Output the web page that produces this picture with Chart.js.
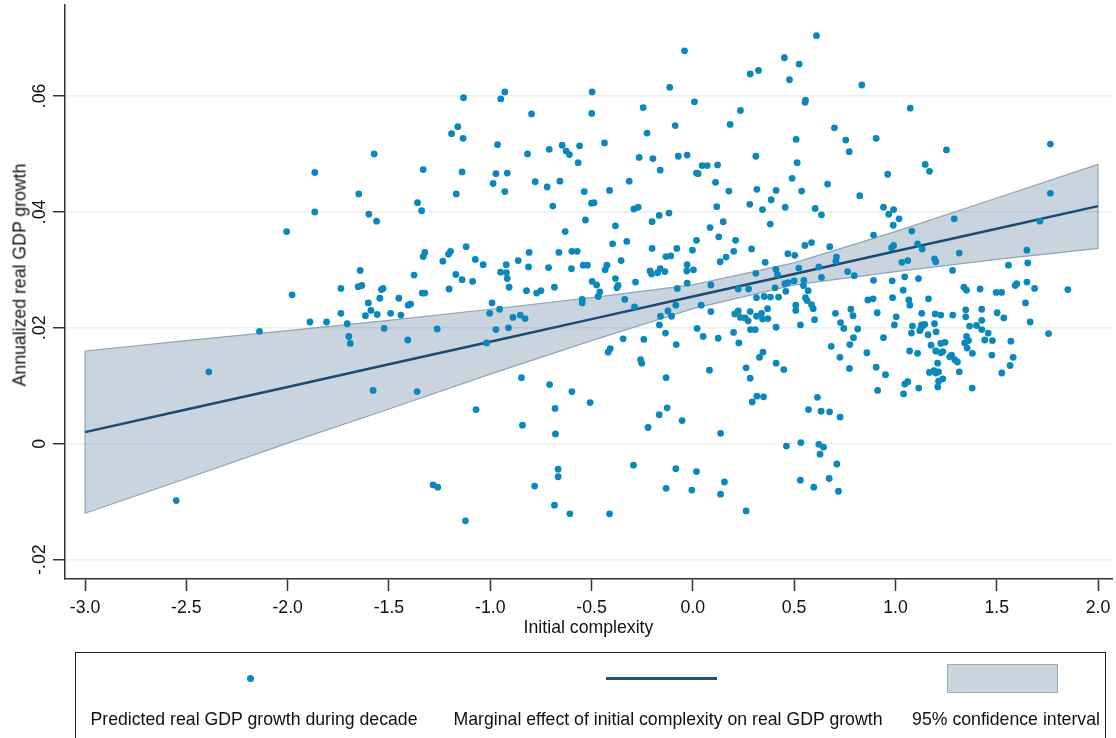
<!DOCTYPE html>
<html>
<head>
<meta charset="utf-8">
<script src="https://cdn.jsdelivr.net/npm/chart.js@4.4.1/dist/chart.umd.min.js"></script>
<style>
  html, body { margin: 0; padding: 0; background: #fff; }
  #wrap { position: relative; width: 1116px; height: 738px; overflow: hidden; font-family: 'Liberation Sans', Arial, sans-serif; }
  #ytitle { position: absolute; left: 20px; top: 275px; font-size: 17.7px; color: #111; white-space: nowrap; transform: translate(-50%, -50%) rotate(-90deg); }
  #legend { position: absolute; left: 75px; top: 652px; width: 1031px; height: 100px; border: 1.5px solid #222; box-sizing: border-box; }
  .lab { position: absolute; top: 56px; font-size: 17.7px; color: #111; white-space: nowrap; transform: translateX(-50%); }
  .dot { position: absolute; width: 7px; height: 7px; border-radius: 50%; background: #0a88bd; }
  .ln { position: absolute; height: 3px; background: #234f79; }
  .box { position: absolute; background: #c9d4de; border: 1.5px solid #9aadbf; box-sizing: border-box; }
</style>
</head>
<body>
<div id="wrap">
  <canvas id="chart" width="1116" height="738"></canvas>
  <div id="ytitle">Annualized real GDP growth</div>
  <div id="legend">
    <div class="dot" style="left:171px; top:22px;"></div>
    <div class="ln" style="left:530px; width:111px; top:24px;"></div>
    <div class="box" style="left:871px; width:111px; top:11px; height:29px;"></div>
    <div class="lab" style="left:178px;">Predicted real GDP growth during decade</div>
    <div class="lab" style="left:592px;">Marginal effect of initial complexity on real GDP growth</div>
    <div class="lab" style="left:930px;">95% confidence interval</div>
  </div>
</div>
<script>
// predicted real GDP growth vs initial complexity
const predicted = [
  [-1.866,.0468],[-1.866,.0400],[-2.005,.0366],[-1.978,.0257],
  [-1.890,.0210],[-1.808,.0210],[-2.139,.0194],[-2.389,.0124],[-2.550,-.0098],
  [-1.132,.0597],[-0.948,.0595],[-0.928,.0607],[-0.497,.0607],[-0.499,.0570],[-0.796,.0569],
  [-1.160,.0547],[-1.191,.0535],[-1.134,.0527],[-0.964,.0516],[-1.573,.0500],[-0.816,.0500],
  [-0.709,.0508],[-0.645,.0515],[-0.625,.0505],[-0.609,.0499],[-0.559,.0514],[-0.566,.0485],
  [-1.331,.0473],[-1.139,.0469],[-0.972,.0466],[-0.916,.0467],[-0.986,.0449],[-0.778,.0452],
  [-0.719,.0443],[-0.656,.0453],[-0.928,.0435],[-0.536,.0435],[-1.649,.0431],[-1.168,.0431],
  [-1.359,.0416],[-1.339,.0402],[-0.691,.0410],[-0.500,.0415],[-0.488,.0416],[-1.599,.0396],
  [-1.561,.0384],[-0.530,.0386],[-0.630,.0366],[-1.119,.0340],[-1.323,.0330],[-1.331,.0323],
  [-1.196,.0332],[-1.206,.0327],[-1.234,.0315],[-1.074,.0318],[-1.035,.0309],[-0.862,.0316],
  [-0.808,.0330],[-0.661,.0330],[-0.597,.0332],[-0.571,.0332],[-1.642,.0299],[-1.376,.0291],
  [-1.170,.0292],[-1.139,.0283],[-1.087,.0280],[-0.949,.0296],[-0.921,.0309],[-0.920,.0295],
  [-0.916,.0285],[-0.907,.0270],[-0.811,.0305],[-0.712,.0304],[-0.599,.0302],[-0.541,.0308],
  [-0.520,.0308],[-0.497,.0280],[-0.475,.0274],[-1.737,.0268],[-1.652,.0271],[-1.634,.0273],
  [-1.537,.0266],[-1.529,.0268],[-1.203,.0267],[-0.821,.0264],[-0.771,.0260],[-0.750,.0264],
  [-0.683,.0270],[-1.336,.0260],[-1.323,.0260],
  [-1.737,.0225],[-1.706,.0207],[-1.698,.0185],[-1.691,.0173],[-1.616,.0221],[-1.602,.0243],
  [-1.589,.0230],[-1.558,.0223],[-1.545,.0251],[-1.524,.0199],[-1.492,.0225],[-1.451,.0251],
  [-1.441,.0222],[-1.407,.0179],[-1.405,.0239],[-1.393,.0241],[-1.262,.0198],[-0.991,.0243],
  [-1.003,.0225],[-0.954,.0232],[-0.972,.0197],[-0.910,.0200],[-0.888,.0218],[-0.852,.0222],
  [-0.828,.0216],[-1.018,.0174],[-0.546,.0249],[-0.546,.0243],[-0.467,.0254],[-1.578,.0092],
  [-1.361,.0090],[-0.846,.0114],[-0.707,.0102],[-0.597,.0090],[-0.680,.0061],[-0.507,.0071],
  [-1.070,.0059],[-0.841,.0032],[-0.678,.0017],[-0.665,-.0044],[-0.665,-.0057],[-1.282,-.0071],
  [-1.259,-.0075],[-0.781,-.0073],[-0.683,-.0106],[-0.607,-.0121],[-1.122,-.0133],
  [0.610,.0704],[-0.041,.0678],[0.452,.0666],[0.525,.0655],[0.283,.0638],[0.324,.0644],
  [0.477,.0628],[-0.114,.0615],[0.834,.0619],[0.008,.0590],[0.556,.0593],[0.554,.0589],
  [-0.245,.0580],[0.235,.0575],[0.184,.0551],[-0.087,.0549],[0.699,.0545],[-0.226,.0536],
  [0.510,.0525],[0.755,.0524],[0.772,.0504],[-0.436,.0519],[-0.265,.0494],[-0.197,.0492],
  [-0.072,.0496],[-0.028,.0498],[0.311,.0496],[-0.161,.0472],[0.046,.0480],[0.071,.0480],
  [0.122,.0481],[0.018,.0467],[0.026,.0466],[0.515,.0485],[0.490,.0458],[0.112,.0451],
  [-0.314,.0453],[0.665,.0448],[-0.411,.0437],[0.178,.0436],[0.316,.0439],[0.411,.0437],
  [0.387,.0421],[0.537,.0436],[0.281,.0413],[0.456,.0408],[0.344,.0404],[0.118,.0409],
  [0.824,.0428],[0.604,.0406],[0.635,.0395],[-0.291,.0405],[-0.270,.0408],[-0.166,.0394],
  [-0.118,.0398],[-0.201,.0383],[-0.382,.0376],[0.382,.0379],[0.085,.0373],[0.150,.0383],
  [0.128,.0357],[0.018,.0351],[0.211,.0351],[-0.326,.0349],[-0.396,.0345],[-0.002,.0334],
  [-0.201,.0337],[-0.079,.0337],[0.290,.0336],[0.202,.0332],[0.553,.0342],[0.586,.0347],
  [0.676,.0340],[0.469,.0328],[0.503,.0325],[-0.133,.0323],[-0.109,.0324],[-0.354,.0316],
  [0.164,.0322],[0.135,.0314],[0.357,.0313],[0.709,.0322],[0.706,.0315],[-0.424,.0308],
  [-0.433,.0300],[-0.211,.0298],[-0.204,.0293],[-0.174,.0295],[-0.161,.0302],[-0.138,.0297],
  [-0.028,.0309],[-0.030,.0298],[0.003,.0300],[0.410,.0301],[0.418,.0292],[0.523,.0303],
  [0.622,.0305],[0.764,.0297],[0.797,.0290],[0.311,.0294],[-0.382,.0285],[-0.283,.0279],
  [0.635,.0287],[-0.459,.0262],[-0.369,.0273],[-0.375,.0269],[-0.077,.0268],[-0.028,.0277],
  [0.089,.0274],[0.224,.0267],[0.275,.0267],[0.406,.0269],[0.454,.0276],[0.470,.0278],
  [0.500,.0281],[0.548,.0282],[0.546,.0273],[0.569,.0264],[0.459,.0263],
  [1.073,.0579],[0.905,.0527],[1.252,.0507],[1.765,.0517],[1.147,.0482],[1.168,.0470],
  [0.962,.0465],[1.765,.0432],[0.941,.0408],[0.967,.0396],[0.991,.0404],[1.018,.0388],
  [0.989,.0377],[1.290,.0388],[1.713,.0384],[1.081,.0367],[0.892,.0360],[1.109,.0345],
  [1.132,.0336],[0.981,.0338],[0.991,.0342],[1.315,.0329],[1.649,.0334],[1.193,.0319],
  [1.199,.0314],[1.032,.0313],[1.061,.0316],[1.282,.0299],[1.558,.0308],[1.653,.0312],
  [1.046,.0288],[1.114,.0285],[0.892,.0282],[0.984,.0281],[1.649,.0279],[1.038,.0265],
  [1.338,.0270],[1.351,.0265],[1.418,.0267],[1.497,.0261],[1.524,.0261],[1.591,.0273],
  [1.599,.0276],[1.687,.0268],[1.851,.0266],
  [-0.336,.0249],[-0.288,.0236],[-0.084,.0239],[0.041,.0239],[0.089,.0228],[-0.160,.0220],
  [-0.123,.0229],[-0.105,.0220],[-0.165,.0205],[-0.135,.0191],[-0.344,.0181],[-0.242,.0180],
  [-0.082,.0171],[0.021,.0199],[0.051,.0185],[0.125,.0182],[0.201,.0192],[0.227,.0174],
  [0.207,.0224],[0.224,.0229],[0.235,.0218],[0.258,.0217],[0.273,.0212],[0.283,.0228],
  [0.314,.0252],[0.314,.0220],[0.339,.0225],[0.344,.0215],[0.369,.0233],[0.370,.0216],
  [0.352,.0254],[0.383,.0253],[0.423,.0253],[0.411,.0201],[0.285,.0197],[0.308,.0197],
  [0.508,.0239],[0.508,.0230],[0.531,.0205],[0.556,.0252],[0.564,.0247],[0.586,.0240],
  [0.594,.0233],[0.601,.0214],[0.704,.0225],[0.729,.0209],[0.745,.0199],[0.791,.0221],
  [0.780,.0232],[0.814,.0198],[0.793,.0183],[0.775,.0171],[0.683,.0168],[0.726,.0149],
  [0.773,.0130],[-0.418,.0158],[-0.408,.0164],[-0.258,.0145],[-0.252,.0139],[0.082,.0127],
  [0.263,.0131],[0.283,.0113],[0.329,.0149],[0.346,.0158],[0.411,.0139],[0.449,.0128],
  [-0.132,.0114],[0.316,.0082],[0.349,.0081],[0.293,.0072],[0.615,.0080],[0.571,.0059],
  [0.633,.0056],[0.675,.0055],[0.727,.0046],[-0.127,.0062],[-0.166,.0050],[-0.053,.0040],
  [-0.221,.0028],[0.137,.0018],[0.462,-.0004],[0.533,.0002],[0.622,-.0001],[0.645,-.0006],
  [0.628,-.0018],[0.711,-.0035],[-0.293,-.0037],[-0.084,-.0043],[0.018,-.0048],[0.156,-.0066],
  [-0.132,-.0077],[-0.005,-.0080],[0.137,-.0087],[0.531,-.0063],[0.597,-.0075],[0.673,-.0060],
  [0.719,-.0082],[-0.411,-.0121],[0.263,-.0116],
  [0.864,.0248],[0.890,.0250],[0.986,.0252],[1.066,.0248],[1.071,.0239],[1.163,.0250],
  [0.910,.0226],[1.004,.0219],[0.995,.0205],[1.130,.0225],[1.196,.0224],[1.224,.0222],
  [1.283,.0222],[1.347,.0231],[1.347,.0219],[1.426,.0232],[1.502,.0226],[1.535,.0217],
  [1.642,.0243],[1.665,.0210],[1.756,.0190],[1.084,.0203],[1.129,.0205],[1.137,.0204],
  [1.145,.0206],[1.125,.0199],[1.120,.0195],[1.193,.0207],[1.201,.0193],[1.079,.0191],
  [1.161,.0188],[0.941,.0183],[1.366,.0203],[1.400,.0204],[1.426,.0213],[1.426,.0197],
  [1.458,.0191],[1.441,.0179],[1.479,.0178],[1.570,.0177],[1.351,.0185],[1.361,.0178],
  [1.342,.0174],[1.354,.0165],[1.176,.0170],[1.224,.0173],[1.245,.0175],[1.199,.0160],
  [1.224,.0157],[1.234,.0159],[1.277,.0153],[1.268,.0150],[1.293,.0145],[1.306,.0141],
  [1.380,.0156],[1.476,.0153],[1.581,.0149],[1.566,.0135],[1.525,.0122],[1.070,.0160],
  [1.109,.0156],[0.859,.0157],[0.905,.0132],[0.951,.0119],[1.208,.0139],[1.168,.0123],
  [1.190,.0126],[1.213,.0124],[1.199,.0122],[1.315,.0124],[1.234,.0112],[1.213,.0108],
  [1.209,.0098],[1.061,.0107],[1.046,.0103],[1.115,.0096],[1.040,.0086],[0.912,.0092],
  [1.379,.0096]
];

// fitted line and 95% band
const ciX   = [-3.0, -2.5, -2.0, -1.5, -1.0, -0.5, 0.0, 0.5, 1.0, 1.5, 2.0];
const fitY  = [.0020, .0059, .0098, .0137, .0176, .0215, .0254, .0293, .0332, .0371, .0410];
const ciLow = [-.0120, -.0060, .0001, .0060, .0120, .0178, .0233, .0274, .0297, .0318, .0337];
const ciHigh= [.0160, .0178, .0195, .0213, .0232, .0252, .0274, .0312, .0366, .0424, .0482];

const xTicks = [-3.0, -2.5, -2.0, -1.5, -1.0, -0.5, 0.0, 0.5, 1.0, 1.5, 2.0];
const yTicks = [-0.02, 0, 0.02, 0.04, 0.06];
const yTickLabels = ['-.02', '0', '.02', '.04', '.06'];

const FONT = "'Liberation Sans', Arial, sans-serif";
Chart.defaults.font.family = FONT;
Chart.defaults.color = '#111';

// band as one closed outline: upper edge left to right, lower edge back
const bandPts = ciX.map((x, i) => ({ x: x, y: ciHigh[i] }))
  .concat(ciX.slice().reverse().map((x, i) => ({ x: x, y: ciLow[ciX.length - 1 - i] })));
bandPts.push(bandPts[0]);

const ctx = document.getElementById('chart').getContext('2d');
const myChart = new Chart(ctx, {
  type: 'scatter',
  data: {
    datasets: [{
      label: 'Predicted real GDP growth during decade',
      data: predicted.map(p => ({ x: p[0], y: p[1] })),
      backgroundColor: '#0a88bd',
      borderWidth: 0,
      pointRadius: 3.4,
      order: 0
    }, {
      label: 'Marginal effect of initial complexity on real GDP growth',
      data: ciX.map((x, i) => ({ x: x, y: fitY[i] })),
      showLine: true,
      borderColor: '#1b4a73',
      borderWidth: 2.5,
      pointRadius: 0,
      order: 1
    }, {
      label: '95% confidence interval',
      data: bandPts,
      showLine: true,
      borderColor: '#8fa4b9',
      borderWidth: 1.2,
      backgroundColor: 'rgba(26,71,111,0.23)',
      fill: 'shape',
      pointRadius: 0,
      order: 2
    }]
  },
  options: {
    responsive: false,
    animation: false,
    layout: { padding: { top: 5, right: 0, bottom: 99, left: 0 } },
    plugins: {
      legend: { display: false },
      tooltip: { enabled: false }
    },
    scales: {
      x: {
        type: 'linear',
        min: -3.099,
        max: 2.069,
        afterBuildTicks: s => { s.ticks = xTicks.map(v => ({ value: v })); },
        afterFit: s => { s.height = 60; s.paddingLeft = 0; s.paddingRight = 0; },
        ticks: {
          callback: v => v.toFixed(1),
          color: '#111',
          font: { size: 17.7 },
          padding: 6,
          maxRotation: 0,
          autoSkip: false
        },
        grid: { drawOnChartArea: false, tickLength: 12, tickColor: '#333', tickWidth: 1.5 },
        border: { color: '#333', width: 1.5 },
        title: { display: true, text: 'Initial complexity', color: '#111', font: { size: 17.7 }, padding: { top: 0, bottom: 0 } }
      },
      y: {
        min: -0.02334,
        max: 0.0757,
        afterBuildTicks: s => { s.ticks = yTicks.map(v => ({ value: v })); },
        afterFit: s => { s.width = 65; s.paddingTop = 0; s.paddingBottom = 0; },
        ticks: {
          callback: (v, i) => yTickLabels[i],
          color: '#111',
          font: { size: 17.7 },
          minRotation: 90,
          maxRotation: 90,
          crossAlign: 'center',
          padding: -2
        },
        grid: { color: '#e8f0f2', lineWidth: 1.5, tickLength: 12, tickColor: '#333', tickWidth: 1.5 },
        border: { color: '#333', width: 1.5 },
        title: { display: false }
      }
    }
  }
});
</script>
</body>
</html>
